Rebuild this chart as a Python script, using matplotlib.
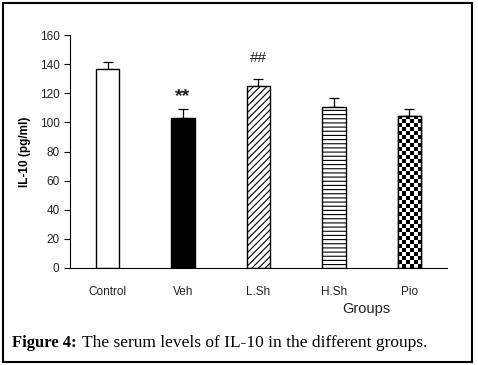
import numpy as np
import matplotlib
matplotlib.use("Agg")
import matplotlib.pyplot as plt
from matplotlib.patches import Rectangle

# data
groups = ["Control", "Veh", "L.Sh", "H.Sh", "Pio"]
means = [137, 103, 125, 110.5, 104.5]
errs = [4.5, 6, 5, 6, 4.5]
marks = ["", "**", "##", "", ""]
mark_y = [None, 118, 144, None, None]

plt.rcParams["font.family"] = ["Liberation Sans", "DejaVu Sans"]
plt.rcParams["hatch.linewidth"] = 0.8

fig = plt.figure(figsize=(4.78, 3.65), dpi=100)
ax = fig.add_axes([0.1464, 0.2658, 0.7886, 0.6382])

x = np.arange(len(groups))
bars = ax.bar(x, means, width=0.31, color="white", edgecolor="black", linewidth=1.0, zorder=2)
bars[1].set_facecolor("black")
bars[2].set_hatch("/////")
bars[3].set_hatch("----")

# checkerboard for the Pio bar, clipped to the bar itself
b = bars[4]
nx = 6
ny = int(round(b.get_height() / 2.75))
board = (np.add.outer(np.arange(ny), np.arange(nx)) % 2).astype(float)
im = ax.imshow(board, cmap="gray", aspect="auto", interpolation="nearest",
               extent=[b.get_x(), b.get_x() + b.get_width(), 0, b.get_height()], zorder=2)
im.set_clip_path(b)
ax.bar(x[4], means[4], width=0.31, fill=False, edgecolor="black", linewidth=1.0, zorder=3)

# upper error bars only
ax.errorbar(x, means, yerr=[np.zeros(len(errs)), errs], fmt="none", ecolor="black",
            elinewidth=0.9, capsize=3.5, capthick=0.9, zorder=1)

for i, (m, yy) in enumerate(zip(marks, mark_y)):
    if m:
        ax.text(x[i], yy, m, ha="center", va="center", fontsize=14 if m == "**" else 11,
                fontweight="bold" if m == "**" else "normal", color="#222222")

ax.set_xlim(-0.5, 4.5)
ax.set_ylim(0, 160)
ax.set_yticks(range(0, 161, 20))
ax.set_xticks(x)
ax.set_xticklabels(groups, fontsize=8.5, color="#222222")
ax.tick_params(axis="x", length=0, pad=13)
ax.tick_params(axis="y", labelsize=8.5, length=4, direction="out", labelcolor="#222222")
ax.spines["top"].set_visible(False)
ax.spines["right"].set_visible(False)
ax.set_ylabel("IL-10 (pg/ml)", fontsize=8.5, fontweight="bold", labelpad=6)

fig.text(366 / 478, 1 - 309 / 365, "Groups", ha="center", va="center", fontsize=10.5,
         color="#222222")

# caption and outer border
cap = fig.text(12 / 478, 1 - 343 / 365, "Figure 4:", fontsize=12, fontweight="bold",
               family="Liberation Serif", va="center")
ax.annotate("The serum levels of IL-10 in the different groups.", xy=(1, 0.5), xycoords=cap,
            xytext=(4, 0), textcoords="offset points", va="center", ha="left",
            fontsize=12.5, family="Liberation Serif", annotation_clip=False)
fig.patches.append(Rectangle((3 / 478, 3 / 365), 469 / 478, 359 / 365, transform=fig.transFigure,
                             fill=False, edgecolor="black", linewidth=1.5))

fig.savefig("out.png", dpi=100)
